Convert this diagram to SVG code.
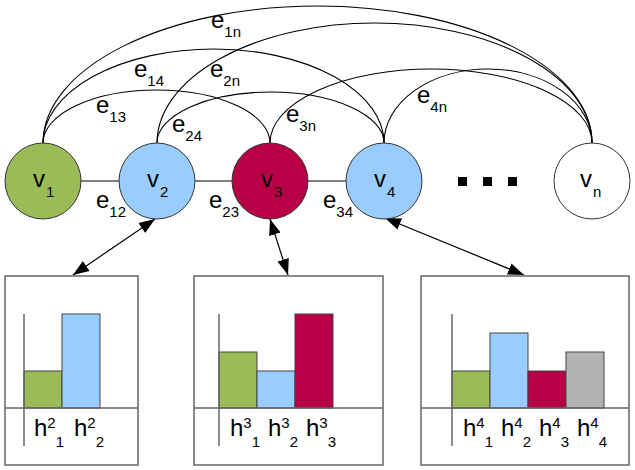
<svg xmlns="http://www.w3.org/2000/svg" width="635" height="470" viewBox="0 0 635 470">
<defs>
<style>
text{font-family:"Liberation Sans",Arial,sans-serif;fill:#000}
.m{font-size:24px}
.s{font-size:15px}
.node{stroke:#333;stroke-width:1}
.arc{fill:none;stroke:#000;stroke-width:1.1}
.link{stroke:#808080;stroke-width:2}
.box{fill:#fff;stroke:#666;stroke-width:1.5}
.axis{stroke:#666;stroke-width:1.5}
.bar{stroke:#444;stroke-width:1}
.ptr{stroke:#000;stroke-width:1.2;fill:none;marker-start:url(#ah);marker-end:url(#ah)}
</style>
<marker id="ah" markerUnits="userSpaceOnUse" markerWidth="18" markerHeight="14" refX="16" refY="6" orient="auto-start-reverse" viewBox="0 0 18 12">
<path d="M0,0 L16,6 L0,12 Z" fill="#000"/>
</marker>
</defs>
<rect width="635" height="470" fill="#fff"/>
<g id="connectors">
<path class="arc" d="M43 143 A274.5 137 0 0 1 592 143"/>
<path class="arc" d="M157 143 A217.5 120 0 0 1 592 143"/>
<path class="arc" d="M43 143 A170.5 94 0 0 1 384 143"/>
<path class="arc" d="M270 143 A161 74 0 0 1 592 143"/>
<path class="arc" d="M384 143 A104 74 0 0 1 592 143"/>
<path class="arc" d="M43 143 A113.5 53 0 0 1 270 143"/>
<path class="arc" d="M157 143 A113.5 51 0 0 1 384 143"/>
<line class="link" x1="81" y1="181" x2="119" y2="181"/>
<line class="link" x1="195" y1="181" x2="232" y2="181"/>
<line class="link" x1="308" y1="181" x2="346" y2="181"/>
<line class="ptr" x1="155" y1="219" x2="73" y2="275"/>
<line class="ptr" x1="270" y1="219" x2="288" y2="275"/>
<line class="ptr" x1="385" y1="218" x2="524" y2="275"/>
<text class="m" x="211" y="28">e<tspan class="s" dy="9">1n</tspan></text>
<text class="m" x="134" y="77">e<tspan class="s" dy="9">14</tspan></text>
<text class="m" x="210" y="77">e<tspan class="s" dy="9">2n</tspan></text>
<text class="m" x="96" y="113">e<tspan class="s" dy="9">13</tspan></text>
<text class="m" x="172" y="132">e<tspan class="s" dy="9">24</tspan></text>
<text class="m" x="286" y="122">e<tspan class="s" dy="9">3n</tspan></text>
<text class="m" x="417" y="103">e<tspan class="s" dy="9">4n</tspan></text>
<text class="m" x="96" y="208">e<tspan class="s" dy="9">12</tspan></text>
<text class="m" x="209" y="208">e<tspan class="s" dy="9">23</tspan></text>
<text class="m" x="323" y="208">e<tspan class="s" dy="9">34</tspan></text>
</g>
<g id="v1"><circle class="node" cx="43" cy="181" r="38" fill="#9BBB59"/><text class="m" x="33" y="187">v<tspan class="s" dx="1" dy="10">1</tspan></text></g>
<g id="v2"><circle class="node" cx="157" cy="181" r="38" fill="#99CCFF"/><text class="m" x="147" y="187">v<tspan class="s" dx="1" dy="10">2</tspan></text></g>
<g id="v3"><circle class="node" cx="270" cy="181" r="38" fill="#B80047"/><text class="m" x="261" y="187">v<tspan class="s" dx="1" dy="10">3</tspan></text></g>
<g id="v4"><circle class="node" cx="384" cy="181" r="38" fill="#99CCFF"/><text class="m" x="374" y="187">v<tspan class="s" dx="1" dy="10">4</tspan></text></g>
<g id="dots"><rect x="458" y="177" width="9" height="9" fill="#000"/><rect x="483" y="177" width="9" height="9" fill="#000"/><rect x="508" y="177" width="9" height="9" fill="#000"/></g>
<g id="vn"><circle class="node" cx="592" cy="181" r="38" fill="#fff"/><text class="m" x="580" y="187">v<tspan class="s" dx="1" dy="10">n</tspan></text></g>
<g id="hist2">
<rect class="box" x="5" y="276" width="133" height="189"/>
<rect class="bar" x="24" y="371" width="38" height="37" fill="#9BBB59"/>
<rect class="bar" x="62" y="314" width="38" height="94" fill="#99CCFF"/>
<line class="axis" x1="24" y1="314" x2="24" y2="446"/>
<line class="axis" x1="5" y1="408" x2="138" y2="408"/>
<text class="m" x="34" y="436">h<tspan class="s" dy="-8">2</tspan><tspan class="s" dy="19">1</tspan></text>
<text class="m" x="74" y="436">h<tspan class="s" dy="-8">2</tspan><tspan class="s" dy="19">2</tspan></text>
</g>
<g id="hist3">
<rect class="box" x="194" y="276" width="189" height="189"/>
<rect class="bar" x="219" y="352" width="38" height="56" fill="#9BBB59"/>
<rect class="bar" x="257" y="371" width="38" height="37" fill="#99CCFF"/>
<rect class="bar" x="295" y="314" width="38" height="94" fill="#B80047"/>
<line class="axis" x1="219" y1="314" x2="219" y2="446"/>
<line class="axis" x1="194" y1="408" x2="383" y2="408"/>
<text class="m" x="230" y="436">h<tspan class="s" dy="-8">3</tspan><tspan class="s" dy="19">1</tspan></text>
<text class="m" x="268" y="436">h<tspan class="s" dy="-8">3</tspan><tspan class="s" dy="19">2</tspan></text>
<text class="m" x="306" y="436">h<tspan class="s" dy="-8">3</tspan><tspan class="s" dy="19">3</tspan></text>
</g>
<g id="hist4">
<rect class="box" x="421" y="276" width="208" height="189"/>
<rect class="bar" x="452" y="371" width="38" height="37" fill="#9BBB59"/>
<rect class="bar" x="490" y="333" width="38" height="75" fill="#99CCFF"/>
<rect class="bar" x="528" y="371" width="38" height="37" fill="#B80047"/>
<rect class="bar" x="566" y="352" width="38" height="56" fill="#B3B3B3"/>
<line class="axis" x1="452" y1="314" x2="452" y2="446"/>
<line class="axis" x1="421" y1="408" x2="629" y2="408"/>
<text class="m" x="463" y="436">h<tspan class="s" dy="-8">4</tspan><tspan class="s" dy="19">1</tspan></text>
<text class="m" x="501" y="436">h<tspan class="s" dy="-8">4</tspan><tspan class="s" dy="19">2</tspan></text>
<text class="m" x="539" y="436">h<tspan class="s" dy="-8">4</tspan><tspan class="s" dy="19">3</tspan></text>
<text class="m" x="577" y="436">h<tspan class="s" dy="-8">4</tspan><tspan class="s" dy="19">4</tspan></text>
</g>
</svg>
